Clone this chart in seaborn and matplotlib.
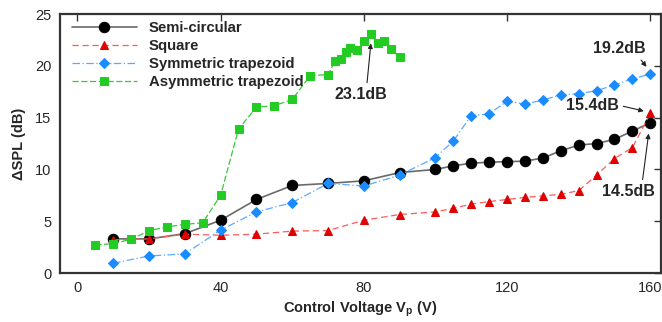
import matplotlib
matplotlib.use("Agg")
import matplotlib.pyplot as plt
import seaborn as sns
import numpy as np

# ---- data ----
voltage = [10, 20, 30, 40, 50, 60, 70, 80, 90, 100, 105, 110, 115, 120, 125,
           130, 135, 140, 145, 150, 155, 160]
semi_circular = [3.3, 3.3, 3.8, 5.1, 7.1, 8.45, 8.65, 8.9, 9.7, 10.0, 10.35, 10.6,
                 10.7, 10.75, 10.8, 11.1, 11.8, 12.35, 12.5, 12.9, 13.7, 14.5]
square = [3.2, 3.3, 3.75, 3.65, 3.75, 4.05, 4.1, 5.1, 5.65, 5.9, 6.25, 6.65,
          6.9, 7.1, 7.3, 7.45, 7.6, 7.95, 9.45, 11.05, 12.1, 15.4]
sym_trapezoid = [0.95, 1.65, 1.85, 4.15, 5.9, 6.8, 8.65, 8.4, 9.45, 11.15, 12.75,
                 15.2, 15.35, 16.6, 16.3, 16.7, 17.2, 17.3, 17.6, 18.15, 18.75, 19.2]
voltage_asym = [5, 10, 15, 20, 25, 30, 35, 40, 45, 50, 55, 60, 65, 70, 72, 73.5,
                75, 76, 78, 80, 82, 84, 85.5, 87.5, 90]
asym_trapezoid = [2.7, 2.85, 3.25, 4.1, 4.45, 4.7, 4.85, 7.5, 13.9, 16.0, 16.15,
                  16.75, 19.05, 19.15, 20.5, 20.7, 21.3, 21.7, 21.5, 22.35, 23.1,
                  22.2, 22.4, 21.6, 20.85]
labels = ["Semi-circular", "Square", "Symmetric trapezoid", "Asymmetric trapezoid"]
x_ticks = [0, 40, 80, 120, 160]
y_ticks = [0, 5, 10, 15, 20, 25]

sns.set_style("white")
plt.rcParams["font.family"] = ["Liberation Sans", "DejaVu Sans"]
plt.rcParams["mathtext.fontset"] = "custom"
plt.rcParams["mathtext.bf"] = "Liberation Sans:bold"
plt.rcParams["mathtext.rm"] = "Liberation Sans"

fig = plt.figure(figsize=(6.62, 3.22), dpi=100)
ax = fig.add_axes([0.0899, 0.152, 0.9086, 0.8045])

sns.lineplot(x=voltage, y=semi_circular, ax=ax, color="#6a6a6a", lw=1.2,
             marker="o", markersize=7.5, markerfacecolor="black",
             markeredgecolor="black", label=labels[0])
sns.lineplot(x=voltage, y=square, ax=ax, color="#ff5a5a", lw=0.9,
             linestyle=(0, (5, 3)), marker="^", markersize=6,
             markerfacecolor="#e00000", markeredgecolor="#e00000", label=labels[1])
sns.lineplot(x=voltage, y=sym_trapezoid, ax=ax, color="#5aaaff", lw=0.9,
             linestyle=(0, (6, 2, 1, 2)), marker="D", markersize=5.5,
             markerfacecolor="#1a8cff", markeredgecolor="#1a8cff", label=labels[2])
sns.lineplot(x=voltage_asym, y=asym_trapezoid, ax=ax, color="#33cc33", lw=0.9,
             linestyle=(0, (5, 2)), marker="s", markersize=5.5,
             markerfacecolor="#22cc22", markeredgecolor="#22cc22", label=labels[3])

ax.set_xlim(-5, 163)
ax.set_ylim(0, 25)
ax.set_xticks(x_ticks)
ax.set_yticks(y_ticks)
ax.tick_params(direction="in", top=True, right=True, length=5, width=1,
               color="#333333", labelsize=10.5, pad=6)
for s in ax.spines.values():
    s.set_color("#333333")
    s.set_linewidth(1.6)

ax.set_xlabel(r"Control Voltage V$_\mathbf{p}$ (V)", fontsize=10.5,
              fontweight="bold", labelpad=3)
ax.set_ylabel("ΔSPL (dB)", fontsize=10.5, fontweight="bold", labelpad=6)

leg = ax.legend(loc="upper left", bbox_to_anchor=(0.003, 1.012), frameon=False,
                handlelength=4.4, labelspacing=0.27, handletextpad=0.8,
                borderaxespad=0.3, prop={"weight": "bold", "size": 10.7})

ann = dict(fontsize=11.5, fontweight="bold", ha="center", va="center")
arrow = dict(arrowstyle="-|>", color="#222222", lw=0.8, mutation_scale=7,
             shrinkA=1, shrinkB=1)
ax.annotate("23.1dB", xy=(82, 22.3), xytext=(79.3, 17.2),
            arrowprops=dict(arrow, relpos=(0.6, 1.0)), **ann)
ax.annotate("19.2dB", xy=(159.2, 19.8), xytext=(151.3, 21.7),
            arrowprops=dict(arrow, relpos=(0.85, 0.0)), **ann)
ax.annotate("15.4dB", xy=(158.6, 15.6), xytext=(143.8, 16.2),
            arrowprops=dict(arrow, relpos=(1.0, 0.5)), **ann)
ax.annotate("14.5dB", xy=(159.6, 13.6), xytext=(154.0, 7.85),
            arrowprops=dict(arrow, relpos=(0.75, 1.0)), **ann)

fig.savefig("out.png", dpi=100)
